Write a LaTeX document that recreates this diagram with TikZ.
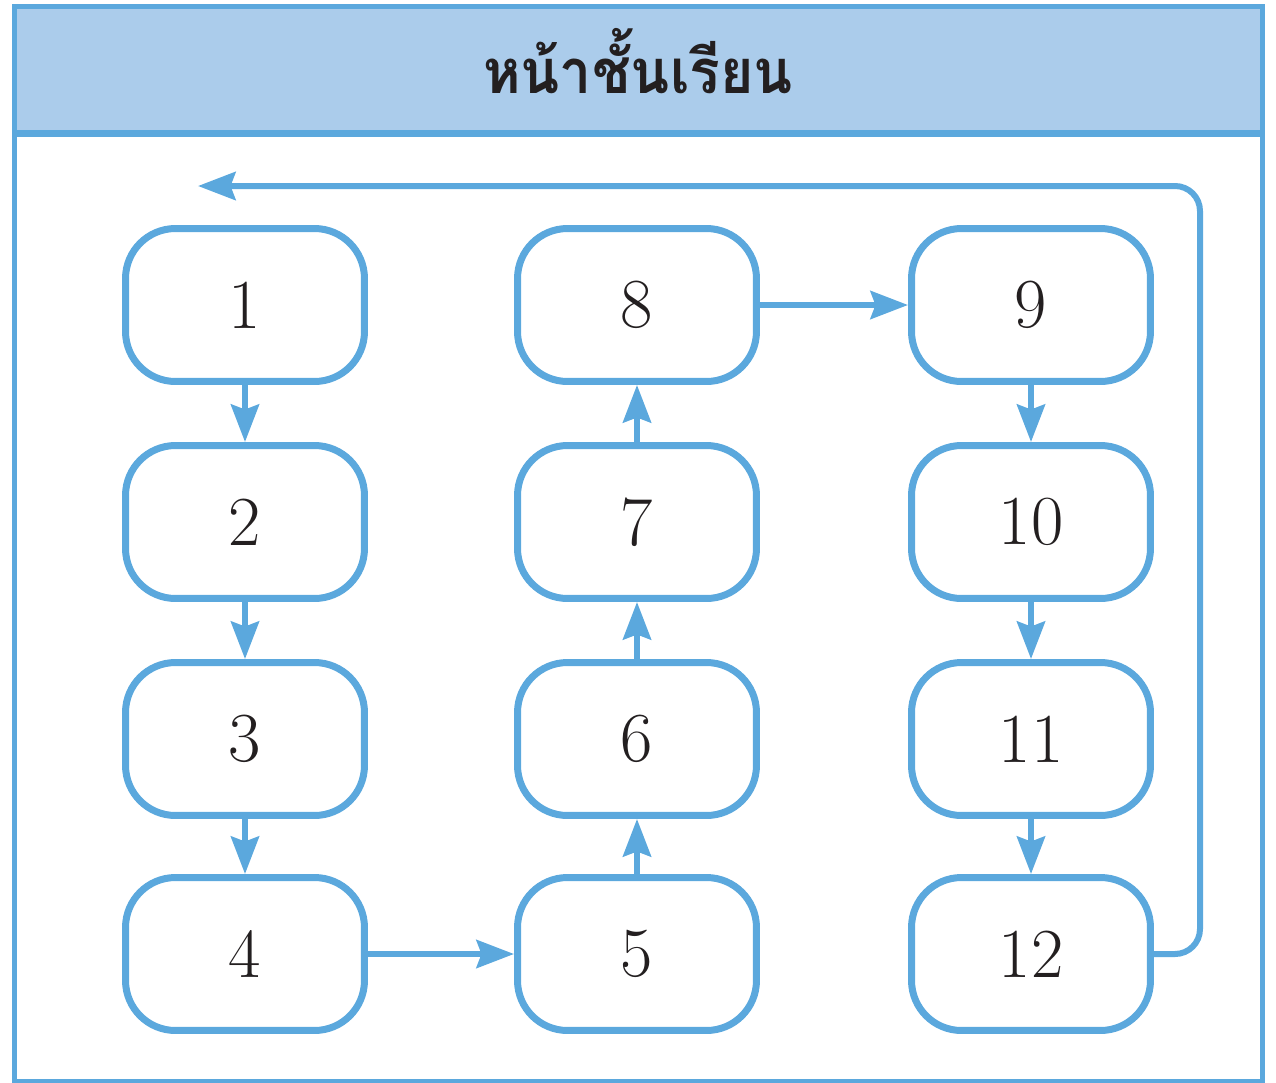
\documentclass[tikz,border=0pt]{standalone}
\usepackage{fontspec}
\newfontfamily\thaifont[Script=Thai]{Loma}
\usetikzlibrary{arrows.meta}
\definecolor{frameblue}{HTML}{5BA8DD}
\definecolor{headblue}{HTML}{ABCCEB}
\definecolor{ink}{HTML}{231F20}

\begin{document}
\begin{tikzpicture}[x=0.02cm, y=-0.02cm,
		box/.style={draw=frameblue, line width=7*0.02cm, rounded corners=1cm, minimum width=4.78cm, minimum height=3.06cm, text=ink, font=\fontsize{40}{41}\selectfont},
		flow/.style={draw=frameblue, line width=6*0.02cm, -{Stealth[length=7.5mm, width=5.6mm, inset=1mm]}}]
		\useasboundingbox (0, 0) rectangle (1276, 1083);
		\draw[frameblue, line width=5*0.02cm, fill=headblue](14, 6) rectangle (1262, 133);
		\draw[frameblue, line width=5*0.02cm](14, 133)--(14, 1081)--(1262, 1081)--(1262, 133);
		\draw[frameblue, line width=7*0.02cm](14, 133)--(1262, 133);
		\node[anchor=base, text=ink, xscale=0.93, transform shape, font=\thaifont\bfseries\fontsize{35}{36}\selectfont](title) at (638, 93){หน้าชั้นเรียน};
		\node[box](b1) at (245, 305){1};
		\node[box](b2) at (245, 522){2};
		\node[box](b3) at (245, 739){3};
		\node[box](b4) at (245, 954){4};
		\node[box](b5) at (637, 954){5};
		\node[box](b6) at (637, 739){6};
		\node[box](b7) at (637, 522){7};
		\node[box](b8) at (637, 305){8};
		\node[box](b9) at (1031, 305){9};
		\node[box](b10) at (1031, 522){10};
		\node[box](b11) at (1031, 739){11};
		\node[box](b12) at (1031, 954){12};
		\coordinate (back) at (198, 186);
		\draw[flow](b1)--(b2);
		\draw[flow](b2)--(b3);
		\draw[flow](b3)--(b4);
		\draw[flow](b4)--(b5);
		\draw[flow](b5)--(b6);
		\draw[flow](b6)--(b7);
		\draw[flow](b7)--(b8);
		\draw[flow](b8)--(b9);
		\draw[flow](b9)--(b10);
		\draw[flow](b10)--(b11);
		\draw[flow](b11)--(b12);
		\draw[flow, rounded corners=0.5cm](b12.east)-|(1200, 186)--(back);
	\end{tikzpicture}
\end{document}
